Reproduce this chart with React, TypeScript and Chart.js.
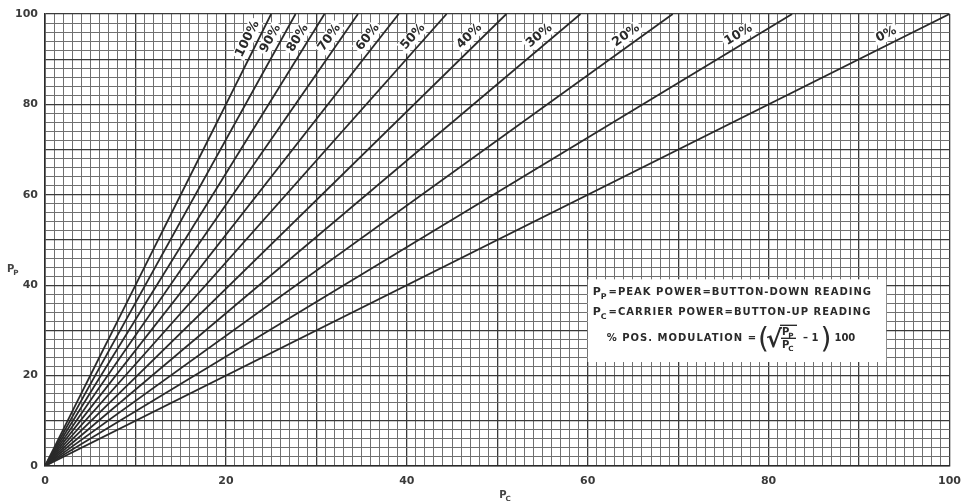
import { Chart, registerables } from "chart.js";
import { useEffect, useRef } from "react";

Chart.register(...registerables);

// modulation curves, labelled at the top of the chart
const MODULATION = ["100%", "90%", "80%", "70%", "60%", "50%", "40%", "30%", "20%", "10%", "0%"];
// Pc value where each curve meets Pp = 100
const END_PC = [25, 27.7, 30.9, 34.6, 39.1, 44.4, 51, 59.2, 69.4, 82.6, 100];
const END_PP = 100;
const X_TICKS = [0, 20, 40, 60, 80, 100];
const Y_TICKS = [0, 20, 40, 60, 80, 100];

const INK = "#2a2a2a";
const FONT = '"DejaVu Sans", sans-serif';

const drawSubP = (ctx: CanvasRenderingContext2D, x: number, y: number, sub: string, size: number) => {
  ctx.font = `bold ${size}px ${FONT}`;
  ctx.textAlign = "left";
  ctx.textBaseline = "alphabetic";
  ctx.fillText("P", x, y);
  const w = ctx.measureText("P").width;
  ctx.font = `bold ${size * 0.72}px ${FONT}`;
  ctx.fillText(sub, x + w - 1, y + size * 0.3);
  return w - 1 + ctx.measureText(sub).width;
};

const overlay = {
  id: "overlay",
  afterDatasetsDraw(chart: any) {
    const { ctx, chartArea } = chart;
    const xs = chart.scales.x;
    const ys = chart.scales.y;
    ctx.save();
    ctx.fillStyle = INK;

    // curve labels
    const labelPp = 93.5;
    MODULATION.forEach((txt, i) => {
      const x0 = xs.getPixelForValue(0);
      const y0 = ys.getPixelForValue(0);
      const x1 = xs.getPixelForValue(END_PC[i]);
      const y1 = ys.getPixelForValue(END_PP);
      const a = Math.atan2(y1 - y0, x1 - x0);
      const t = labelPp / END_PP;
      const off = 10;
      const cx = x0 + (x1 - x0) * t + Math.sin(a) * off;
      const cy = y0 + (y1 - y0) * t - Math.cos(a) * off;
      ctx.save();
      ctx.translate(cx, cy);
      ctx.rotate(a);
      ctx.font = `bold 12.5px ${FONT}`;
      const w = ctx.measureText(txt).width;
      ctx.fillStyle = "#fff";
      ctx.fillRect(-w / 2 - 2, -7, w + 4, 14);
      ctx.fillStyle = INK;
      ctx.textAlign = "center";
      ctx.textBaseline = "middle";
      ctx.fillText(txt, 0, 0);
      ctx.restore();
    });

    // explanation box
    const bx = xs.getPixelForValue(60);
    const bx2 = xs.getPixelForValue(93);
    const by = ys.getPixelForValue(41.3);
    const by2 = ys.getPixelForValue(23);
    ctx.fillStyle = "#fff";
    ctx.fillRect(bx, by, bx2 - bx, by2 - by);
    ctx.fillStyle = INK;
    ctx.letterSpacing = "1px";
    let w = drawSubP(ctx, bx + 5, by + 16, "P", 11);
    ctx.font = `bold 10px ${FONT}`;
    ctx.fillText("=PEAK POWER=BUTTON-DOWN READING", bx + 6 + w, by + 16);
    w = drawSubP(ctx, bx + 5, by + 36, "C", 11);
    ctx.font = `bold 10px ${FONT}`;
    ctx.fillText("=CARRIER POWER=BUTTON-UP READING", bx + 6 + w, by + 36);

    // formula
    const fy = by + 62;
    let fx = bx + 19;
    ctx.font = `bold 10px ${FONT}`;
    const lead = "% POS. MODULATION =";
    ctx.fillText(lead, fx, fy);
    fx += ctx.measureText(lead).width + 1;
    ctx.letterSpacing = "0px";
    ctx.font = `28px ${FONT}`;
    ctx.fillText("(", fx, fy + 7);
    fx += 9;
    ctx.font = `bold 24px ${FONT}`;
    ctx.fillText("\u221A", fx - 1, fy + 6);
    const rw = ctx.measureText("\u221A").width;
    fx += rw - 2;
    ctx.lineWidth = 1.4;
    ctx.strokeStyle = INK;
    ctx.beginPath();
    ctx.moveTo(fx - 1, fy - 16);
    ctx.lineTo(fx + 16, fy - 16);
    ctx.stroke();
    drawSubP(ctx, fx + 1, fy - 6, "P", 10);
    ctx.beginPath();
    ctx.moveTo(fx, fy - 3);
    ctx.lineTo(fx + 15, fy - 3);
    ctx.stroke();
    drawSubP(ctx, fx + 1, fy + 7, "C", 10);
    fx += 22;
    ctx.font = `bold 10px ${FONT}`;
    ctx.fillText("\u2013 1", fx, fy);
    fx += ctx.measureText("\u2013 1").width + 2;
    ctx.font = `28px ${FONT}`;
    ctx.fillText(")", fx, fy + 7);
    fx += 14;
    ctx.font = `bold 10px ${FONT}`;
    ctx.fillText("100", fx, fy);

    // axis titles
    ctx.fillStyle = "#444";
    drawSubP(ctx, 7, (chartArea.top + chartArea.bottom) / 2 + 32, "P", 10);
    drawSubP(ctx, (chartArea.left + chartArea.right) / 2 + 2, chartArea.bottom + 32, "C", 10);
    ctx.restore();
  },
};

const gridColor = (c: any) => (c.tick && c.tick.value % 10 === 0 ? "#3a3a3a" : "#707070");
const gridWidth = (c: any) => (c.tick && c.tick.value % 10 === 0 ? 1.3 : 1);

const App = () => {
  const canvasRef = useRef<HTMLCanvasElement>(null);

  useEffect(() => {
    document.body.style.margin = "0";
    const config: any = {
      type: "scatter",
      data: {
        datasets: MODULATION.map((m, i) => ({
          label: m,
          data: [
            { x: 0, y: 0 },
            { x: END_PC[i], y: END_PP },
          ],
          showLine: true,
          borderColor: INK,
          borderWidth: 1.8,
          pointRadius: 0,
        })),
      },
      options: {
        animation: false,
        responsive: true,
        maintainAspectRatio: false,
        layout: { padding: { top: 14, right: 20, left: 0, bottom: 0 } },
        plugins: { legend: { display: false }, tooltip: { enabled: false } },
        scales: {
          x: {
            type: "linear",
            min: 0,
            max: 100,
            afterFit: (s: any) => {
              s.height = 38;
            },
            ticks: {
              stepSize: 1,
              autoSkip: false,
              maxRotation: 0,
              maxTicksLimit: 1000,
              padding: 9,
              color: "#3a3a3a",
              font: { family: FONT, size: 11, weight: "bold" },
              callback: (v: any) => (X_TICKS.includes(v) ? String(v) : ""),
            },
            grid: { color: gridColor, lineWidth: gridWidth, drawTicks: false },
            border: { color: "#2a2a2a", width: 1.6 },
          },
          y: {
            type: "linear",
            min: 0,
            max: 100,
            afterFit: (s: any) => {
              s.width = 45;
            },
            ticks: {
              stepSize: 2,
              autoSkip: false,
              maxTicksLimit: 1000,
              padding: 7,
              color: "#3a3a3a",
              font: { family: FONT, size: 11, weight: "bold" },
              callback: (v: any) => (Y_TICKS.includes(v) ? String(v) : ""),
            },
            grid: { color: gridColor, lineWidth: gridWidth, drawTicks: false },
            border: { color: "#2a2a2a", width: 1.6 },
          },
        },
      },
      plugins: [overlay],
    };
    const chart = new Chart(canvasRef.current as HTMLCanvasElement, config);
    return () => {
      chart.destroy();
    };
  }, []);

  return (
    <div style={{ position: "fixed", left: 0, top: 0, width: 970, height: 504, background: "#fff" }}>
      <canvas ref={canvasRef} />
    </div>
  );
};

export default App;
